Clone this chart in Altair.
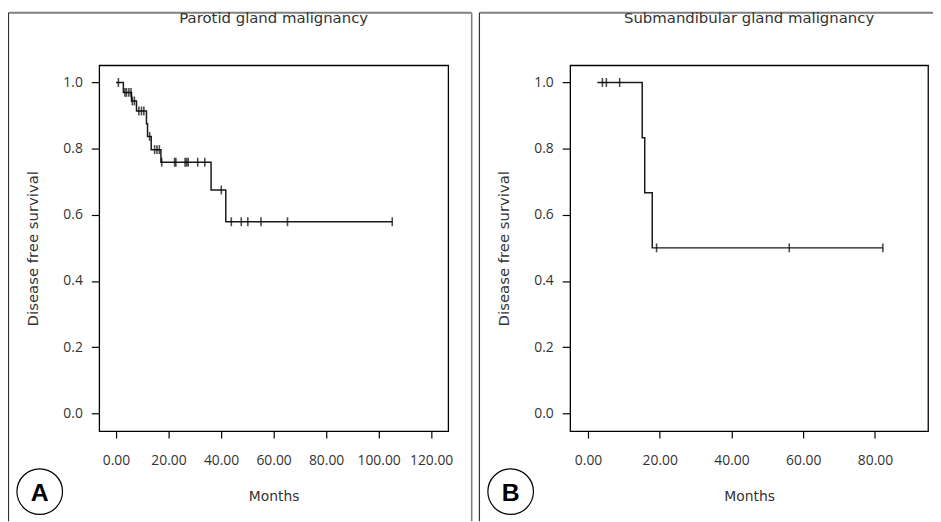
import altair as alt
import pandas as pd

# ---------------- Panel A: Parotid gland malignancy ----------------
a_event_time = [0, 2.8, 5.9, 7.8, 11.6, 12.0, 13.4, 17.1, 36.2, 41.8, 105.2]
a_event_surv = [1.0, 0.970, 0.944, 0.914, 0.875, 0.837, 0.797, 0.759, 0.675, 0.579, 0.579]
a_cens_time = [0.9, 3.4, 4.0, 4.9, 5.7, 6.2, 7.0, 8.7, 9.7, 10.6, 12.8,
               14.7, 15.6, 16.5, 17.4, 22.3, 22.8, 26.3, 26.9, 27.5, 31.1, 33.8,
               40.1, 43.9, 47.7, 50.2, 55.2, 65.3, 105.2]
a_cens_surv = [1.0, 0.970, 0.970, 0.970, 0.970, 0.944, 0.944, 0.914, 0.914, 0.914, 0.837,
               0.797, 0.797, 0.797, 0.759, 0.759, 0.759, 0.759, 0.759, 0.759, 0.759, 0.759,
               0.675, 0.579, 0.579, 0.579, 0.579, 0.579, 0.579]
a_ticks = [0, 20, 40, 60, 80, 100, 120]
a_domain = [-6.4, 126.5]

# ---------------- Panel B: Submandibular gland malignancy ----------------
b_event_time = [2.6, 15.1, 15.8, 17.9, 82.2]
b_event_surv = [1.0, 0.833, 0.667, 0.5, 0.5]
b_cens_time = [4.0, 5.1, 8.8, 19.1, 56.1, 82.2]
b_cens_surv = [1.0, 1.0, 1.0, 0.5, 0.5, 0.5]
b_ticks = [0, 20, 40, 60, 80]
b_domain = [-5.0, 94.8]

y_ticks = [0.0, 0.2, 0.4, 0.6, 0.8, 1.0]
y_domain = [-0.054, 1.052]

H = 369
LABEL_FONT = "Open Sans"
TITLE_FONT = "DejaVu Sans"
INK = "#1a1a1a"


def panel(title, ev_t, ev_s, ce_t, ce_s, x_dom, x_ticks, width, letter, box_right):
    ev = pd.DataFrame({"t": ev_t, "s": ev_s})
    ce = pd.DataFrame({"t": ce_t, "s": ce_s})
    one = pd.DataFrame({"k": [0]})
    xs = alt.Scale(domain=x_dom, nice=False, zero=False)
    ys = alt.Scale(domain=y_domain, nice=False, zero=False)
    xax = alt.Axis(values=x_ticks, format=".2f", title="Months", grid=False, domain=False,
                   tickSize=7, tickColor="black", tickWidth=1.2, labelPadding=16,
                   labelFont=LABEL_FONT, labelFontSize=14, labelColor="#333",
                   labelFlush=False, labelOverlap=False,
                   titleFont=TITLE_FONT, titleFontSize=14, titleFontWeight="normal",
                   titleColor="#333", titleX=width / 2, titleY=66, titleBaseline="middle",
                   titleAlign="center")
    yax = alt.Axis(values=y_ticks, format=".1f", title="Disease free survival", grid=False,
                   domain=False, tickSize=8, tickColor="black", tickWidth=1.2, labelPadding=9,
                   labelFont=LABEL_FONT, labelFontSize=14, labelColor="#333",
                   labelFlush=False, labelOverlap=False,
                   titleFont=TITLE_FONT, titleFontSize=15, titleFontWeight="normal",
                   titleColor="#333", titleX=-67, titleY=H / 2, titleAngle=270,
                   titleBaseline="middle", titleAlign="center")
    enc = dict(x=alt.X("t:Q", scale=xs, axis=xax), y=alt.Y("s:Q", scale=ys, axis=yax))

    line = alt.Chart(ev).mark_line(interpolate="step-after", color=INK, strokeWidth=1.5).encode(**enc)
    cens = alt.Chart(ce).mark_tick(orient="vertical", color="black", size=9, thickness=1.6).encode(**enc)

    head = alt.Chart(one).mark_text(font=TITLE_FONT, fontSize=15, color="#333",
                                    baseline="middle", align="center").encode(
        x=alt.value(width / 2), y=alt.value(-48), text=alt.value(title))

    box_top = alt.Chart(one).mark_rule(color="#808080", strokeWidth=2).encode(
        x=alt.value(-91.5), x2=alt.value(box_right), y=alt.value(-53))
    box_left = alt.Chart(one).mark_rule(color="#333", strokeWidth=1.2).encode(
        x=alt.value(-91.5), y=alt.value(-53), y2=alt.value(460))
    layers = [box_top, box_left]
    if letter == "A":
        box_r = alt.Chart(one).mark_rule(color="#808080", strokeWidth=1.6).encode(
            x=alt.value(box_right), y=alt.value(-53), y2=alt.value(460))
        layers.append(box_r)

    circ = alt.Chart(one).mark_point(shape="circle", size=2116, filled=False, color="black",
                                     strokeWidth=1.2, opacity=1).encode(
        x=alt.value(-60), y=alt.value(430))
    let = alt.Chart(one).mark_text(font="Liberation Sans", fontSize=25, fontWeight="bold",
                                   color="black", baseline="middle", align="center", dy=1).encode(
        x=alt.value(-60), y=alt.value(430), text=alt.value(letter))

    return alt.layer(*layers, line, cens, head, circ, let).properties(width=width, height=H)


pa = panel("Parotid gland malignancy", a_event_time, a_event_surv, a_cens_time, a_cens_surv,
           a_domain, a_ticks, 352, "A", 375.7)
pb = panel("Submandibular gland malignancy", b_event_time, b_event_surv, b_cens_time, b_cens_surv,
           b_domain, b_ticks, 361, "B", 366)

chart = alt.hconcat(pa, pb, spacing=123, bounds="flush").properties(
    padding={"left": 92, "top": 54, "right": 841, "bottom": 452},
    autosize=alt.AutoSizeParams(type="none"),
).configure_view(stroke="black", strokeWidth=1.3)

chart.save("out.html", embed_options={"renderer": "svg", "actions": False})
